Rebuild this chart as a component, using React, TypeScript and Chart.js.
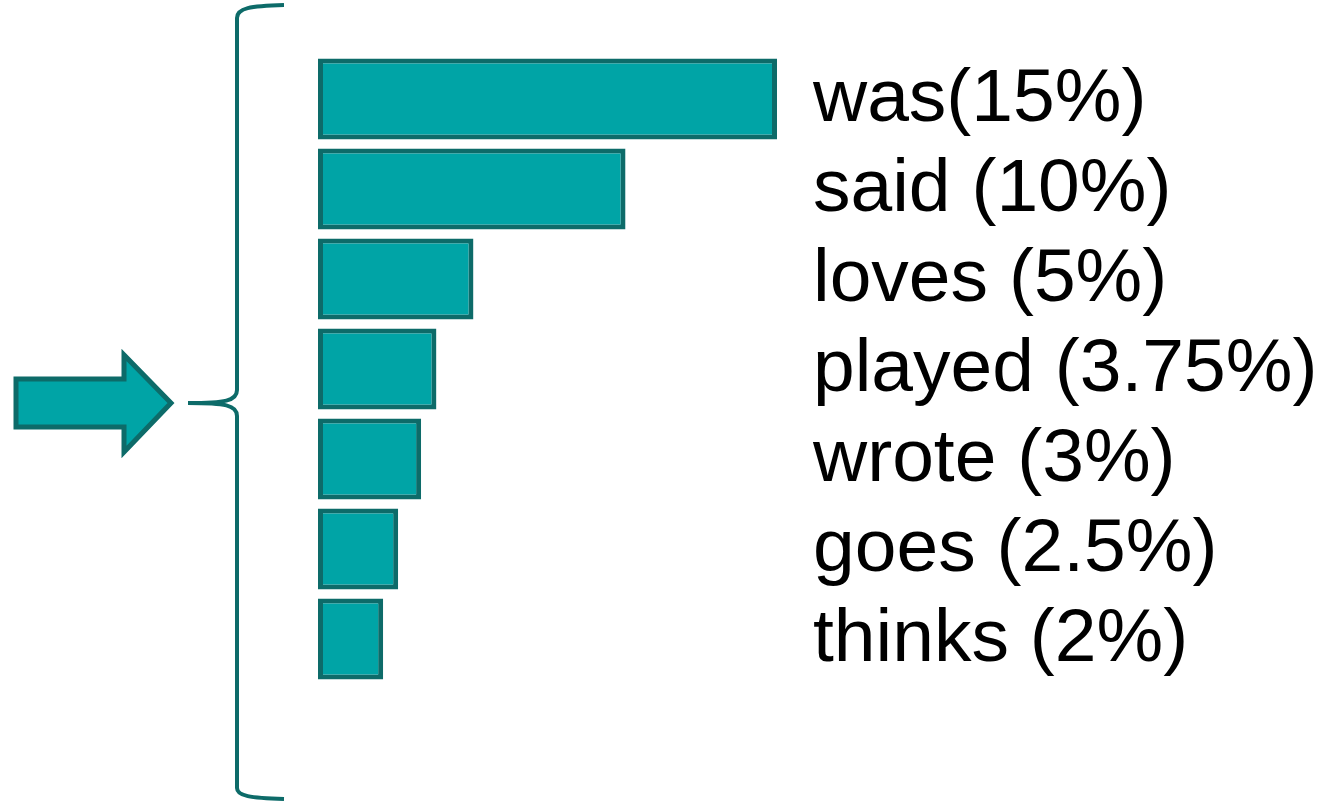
import React, { useEffect, useRef } from "react";
import { Chart, registerables } from "chart.js";

Chart.register(...registerables);

const categories = ["was", "said", "loves", "played", "wrote", "goes", "thinks"];
const labelTexts = ["was(15%)", "said (10%)", "loves (5%)", "played (3.75%)", "wrote (3%)", "goes (2.5%)", "thinks (2%)"];
const barValues = [15, 10.05, 5.08, 3.87, 3.37, 2.62, 2.13];

const FILL = "#00a4a6";
const EDGE = "#0d6b69";

const decorPlugin = {
  id: "decor",
  afterDatasetsDraw(chart: any) {
    const ctx = chart.ctx;
    const meta = chart.getDatasetMeta(0);
    const xs = chart.scales.x;
    const labelX = xs.getPixelForValue(Math.max(...barValues)) + 36;
    ctx.save();
    ctx.fillStyle = "#000";
    ctx.font = '75px "Liberation Sans", Arial, sans-serif';
    ctx.textAlign = "left";
    ctx.textBaseline = "middle";
    meta.data.forEach((bar: any, i: number) => {
      ctx.fillText(labelTexts[i], labelX, bar.y + 1);
    });

    // brace
    ctx.strokeStyle = EDGE;
    ctx.lineWidth = 4;
    ctx.lineCap = "butt";
    const bx = 237;
    const midY = 403;
    ctx.beginPath();
    ctx.moveTo(284, 5);
    ctx.bezierCurveTo(250, 6, 237, 8, bx, 18);
    ctx.lineTo(bx, midY - 13);
    ctx.bezierCurveTo(bx, midY - 2, 225, midY, 188, midY);
    ctx.moveTo(188, midY);
    ctx.bezierCurveTo(225, midY, bx, midY + 2, bx, midY + 13);
    ctx.lineTo(bx, 788);
    ctx.bezierCurveTo(bx, 796, 250, 798, 284, 799);
    ctx.stroke();

    // arrow
    ctx.beginPath();
    ctx.moveTo(16, 379);
    ctx.lineTo(124, 379);
    ctx.lineTo(124, 355);
    ctx.lineTo(171, 403);
    ctx.lineTo(124, 452);
    ctx.lineTo(124, 427);
    ctx.lineTo(16, 427);
    ctx.closePath();
    ctx.fillStyle = FILL;
    ctx.fill();
    ctx.lineWidth = 5;
    ctx.lineJoin = "miter";
    ctx.strokeStyle = EDGE;
    ctx.stroke();
    ctx.restore();
  },
};

export default function App() {
  const ref = useRef<HTMLCanvasElement | null>(null);
  useEffect(() => {
    if (!ref.current) return;
    const chart = new Chart(ref.current, {
      type: "bar",
      data: {
        labels: categories,
        datasets: [
          {
            data: barValues,
            backgroundColor: FILL,
            borderColor: EDGE,
            borderWidth: 5,
            borderSkipped: false,
            barPercentage: 81 / 90,
            categoryPercentage: 1,
          },
        ],
      },
      options: {
        indexAxis: "y",
        animation: false,
        responsive: false,
        devicePixelRatio: 1,
        layout: { padding: { left: 318, right: 412, top: 54, bottom: 120 } },
        scales: {
          x: { display: false, min: 0, max: 20 },
          y: { display: false },
        },
        plugins: { legend: { display: false }, tooltip: { enabled: false } },
      },
      plugins: [decorPlugin],
    } as any);
    return () => chart.destroy();
  }, []);
  return (
    <div style={{ position: "absolute", left: 0, top: 0, width: 1342, height: 804, background: "#fff" }}>
      <canvas ref={ref} width={1342} height={804} />
    </div>
  );
}
